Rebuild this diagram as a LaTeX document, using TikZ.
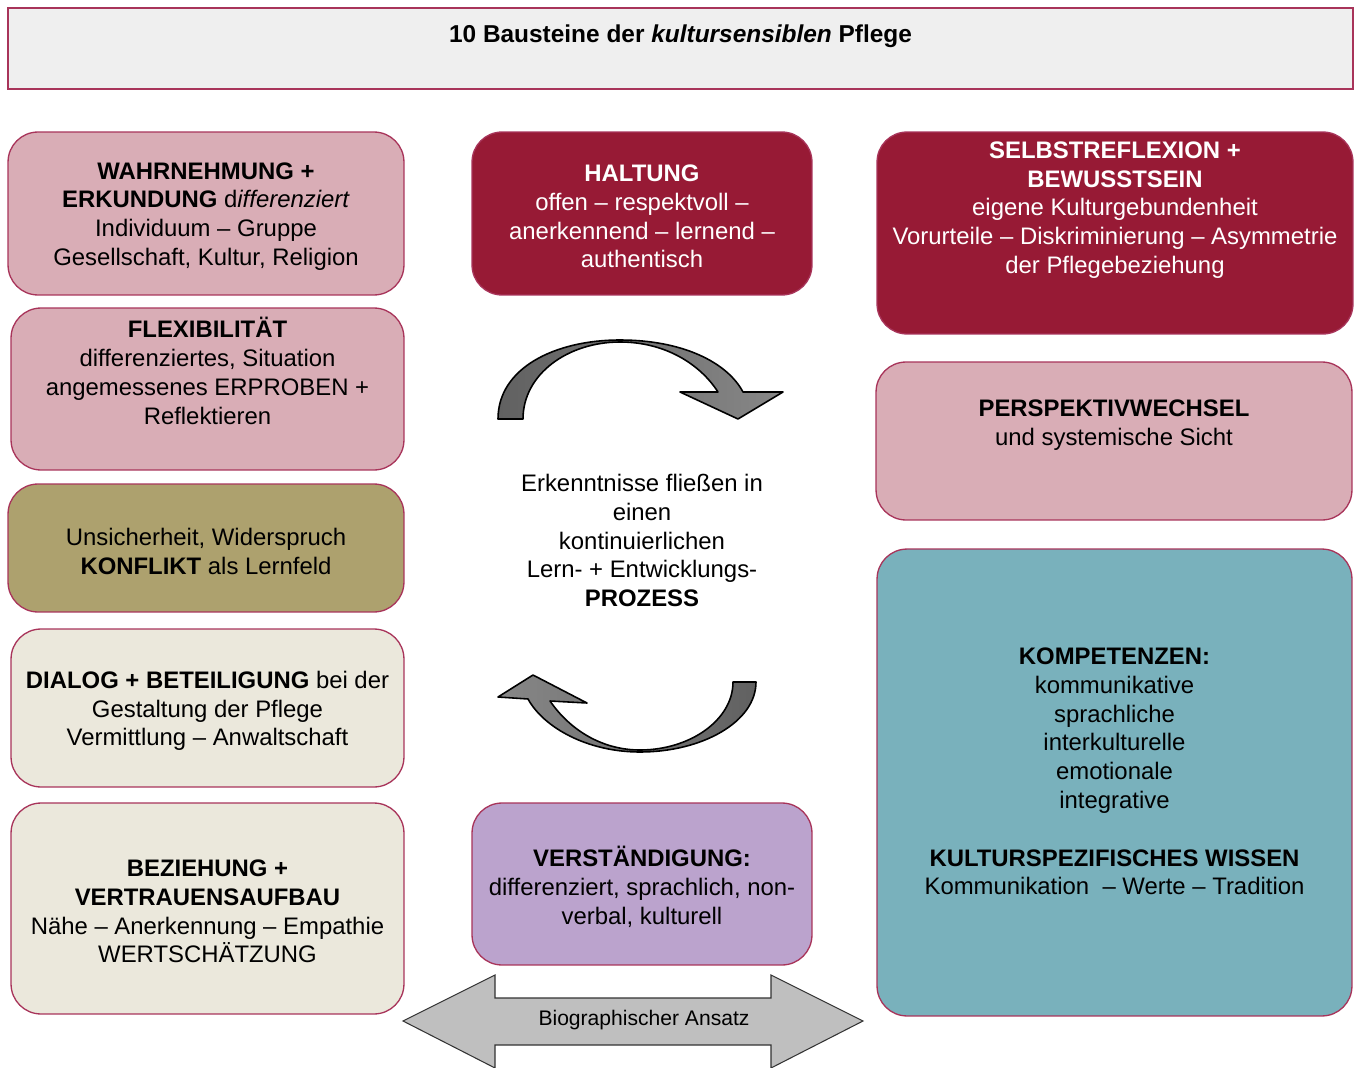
\documentclass[tikz,border=0pt]{standalone}
\usepackage{fontspec}
\setmainfont{Liberation Sans}
\usepackage{tikz}
\usetikzlibrary{positioning}

\definecolor{rand}{HTML}{A8345A}
\definecolor{rosa}{HTML}{D9ADB6}
\definecolor{weinrot}{HTML}{971A35}
\definecolor{oliv}{HTML}{ADA16E}
\definecolor{beige}{HTML}{EBE8DC}
\definecolor{lila}{HTML}{BBA3CD}
\definecolor{petrol}{HTML}{79B1BC}
\definecolor{titelgrau}{HTML}{EFEFEF}

\tikzset{
	baustein/.style={draw=rand, line width=0.75pt, rounded corners=0.6cm, inner sep=0pt},
	bausteintext/.style={align=center, font=\fontsize{13.6}{16.4}\selectfont, inner sep=0pt},
	bogen/.style={draw=black, line width=0.9pt, line join=round},
}

\begin{document}
\begin{tikzpicture}[x=0.02cm, y=-0.02cm]
	\useasboundingbox (0, 0) rectangle (1356, 1068);
	% Titel:
	\node[draw=rand, line width=0.75pt, fill=titelgrau, minimum width=26.9cm, minimum height=1.62cm, inner sep=0pt](titel) at (680.5, 48.5){};
	\node[bausteintext, font=\fontsize{13.9}{16.4}\selectfont](titel-t) at (680.5, 36){\textbf{10 Bausteine der \textit{kultursensiblen} Pflege}};
	% Linke Spalte:
	\node[baustein, fill=rosa, minimum width=7.92cm, minimum height=3.26cm](wahr) at (206, 213.5){};
	\node[bausteintext](wahr-t) at (206, 216.5){\textbf{WAHRNEHMUNG +}\\\textbf{ERKUNDUNG} d\textit{ifferenziert}\\Individuum – Gruppe\\Gesellschaft, Kultur, Religion};
	\node[baustein, fill=rosa, minimum width=7.86cm, minimum height=3.24cm](flex) at (207.5, 389){};
	\node[bausteintext](flex-t) at (207.5, 371){\textbf{FLEXIBILITÄT}\\differenziertes, Situation\\angemessenes ERPROBEN +\\Reflektieren};
	\node[baustein, fill=oliv, minimum width=7.92cm, minimum height=2.56cm](konf) at (206, 548){};
	\node[bausteintext](konf-t) at (206, 551.5){Unsicherheit, Widerspruch\\\textbf{KONFLIKT} als Lernfeld};
	\node[baustein, fill=beige, minimum width=7.86cm, minimum height=3.16cm](dial) at (207.5, 708){};
	\node[bausteintext](dial-t) at (207.5, 711){\textbf{DIALOG + BETEILIGUNG} bei der\\Gestaltung der Pflege\\Vermittlung – Anwaltschaft};
	\node[baustein, fill=beige, minimum width=7.86cm, minimum height=4.22cm](bez) at (207.5, 908.5){};
	\node[bausteintext](bez-t) at (207.5, 911.5){\textbf{BEZIEHUNG +}\\\textbf{VERTRAUENSAUFBAU}\\Nähe – Anerkennung – Empathie\\WERTSCHÄTZUNG};
	% Mitte:
	\node[baustein, fill=weinrot, minimum width=6.8cm, minimum height=3.26cm](halt) at (642, 213.5){};
	\node[bausteintext, text=white](halt-t) at (642, 216.5){\textbf{HALTUNG}\\offen – respektvoll –\\anerkennend – lernend –\\authentisch};
	\node[bausteintext](prozess) at (642, 540.5){Erkenntnisse fließen in\\einen\\kontinuierlichen\\Lern- + Entwicklungs-\\\textbf{PROZESS}};
	\node[baustein, fill=lila, minimum width=6.8cm, minimum height=3.24cm](vers) at (642, 884){};
	\node[bausteintext](vers-t) at (642, 887){\textbf{VERSTÄNDIGUNG:}\\differenziert, sprachlich, non-\\verbal, kulturell};
	% Rechte Spalte:
	\node[baustein, fill=weinrot, minimum width=9.52cm, minimum height=4.04cm](selbst) at (1115, 233){};
	\node[bausteintext, text=white](selbst-t) at (1115, 210){\textbf{SELBSTREFLEXION +}\\\textbf{BEWUSSTSEIN}\\eigene Kulturgebundenheit\\Vorurteile – Diskriminierung – Asymmetrie\\der Pflegebeziehung};
	\node[baustein, fill=rosa, minimum width=9.52cm, minimum height=3.16cm](persp) at (1114, 441){};
	\node[bausteintext](persp-t) at (1114, 425){\textbf{PERSPEKTIVWECHSEL}\\und systemische Sicht};
	\node[baustein, fill=petrol, minimum width=9.5cm, minimum height=9.34cm](komp) at (1114.5, 782.5){};
	\node[bausteintext](komp-t) at (1114.5, 771.5){\textbf{KOMPETENZEN:}\\kommunikative\\sprachliche\\interkulturelle\\emotionale\\integrative\\[16.4pt]\textbf{KULTURSPEZIFISCHES WISSEN}\\Kommunikation \ – Werte – Tradition};
	% Kreislauf-Pfeile:
	\path[bogen, left color=black!62, right color=black!47]
		(498, 419) .. controls (498, 368) and (555, 340) .. (620, 340)
		.. controls (682, 340) and (727, 362) .. (743, 392)
		-- (783, 392) -- (738, 419) -- (680, 392) -- (718, 392)
		.. controls (700, 364) and (665, 342) .. (620, 342)
		.. controls (568, 342) and (523, 374) .. (523, 419) -- cycle;
	\path[bogen, left color=black!47, right color=black!62]
		(756, 682) .. controls (756, 722) and (702, 752) .. (640, 752)
		.. controls (588, 752) and (544, 728) .. (528, 699)
		-- (498, 697) -- (533, 675) -- (587, 703) -- (550, 701)
		.. controls (570, 730) and (602, 750) .. (640, 750)
		.. controls (690, 750) and (733, 720) .. (733, 682) -- cycle;
	% Doppelpfeil:
	\path[draw=black!80, line width=0.6pt, fill=black!25]
		(403, 1021) -- (495, 975) -- (495, 998) -- (771, 998) -- (771, 975)
		-- (863, 1021) -- (771, 1068) -- (771, 1045) -- (495, 1045) -- (495, 1068) -- cycle;
	\node[font=\fontsize{12}{14}\selectfont, inner sep=0pt](bio) at (644, 1020){Biographischer Ansatz};
\end{tikzpicture}
\end{document}
